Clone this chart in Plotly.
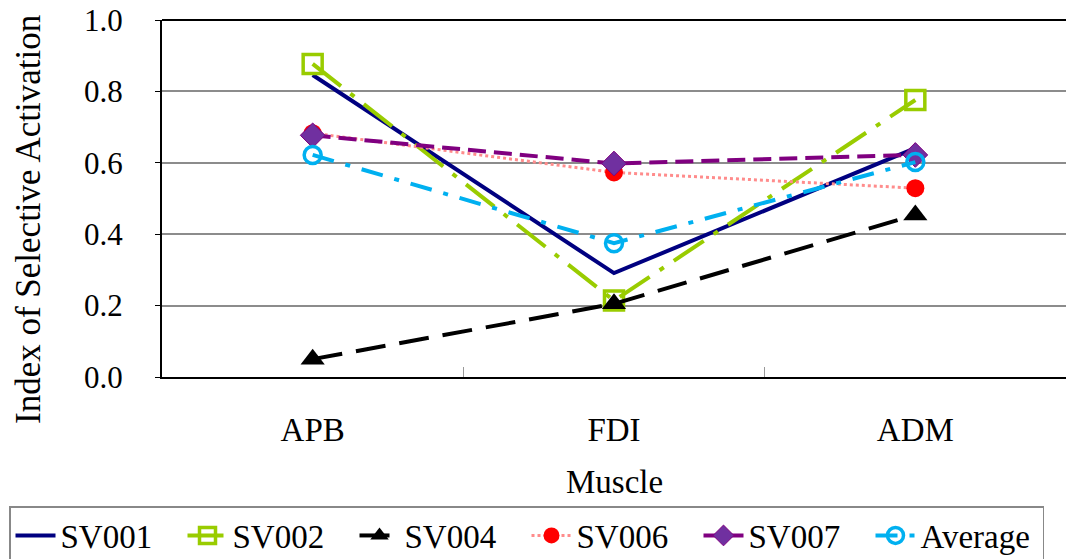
import plotly.graph_objects as go

muscles = ["APB", "FDI", "ADM"]
sv001 = [0.846, 0.291, 0.641]
sv002 = [0.877, 0.214, 0.776]
sv004 = [0.050, 0.205, 0.454]
sv006 = [0.683, 0.573, 0.529]
sv007 = [0.677, 0.598, 0.622]
average = [0.622, 0.375, 0.602]
y_ticks = [0.0, 0.2, 0.4, 0.6, 0.8, 1.0]

FONT = "Liberation Serif"

fig = go.Figure()
fig.add_trace(go.Scatter(x=muscles, y=sv001, name="SV001", mode="lines",
                         line=dict(color="#000080", width=4)))
fig.add_trace(go.Scatter(x=muscles, y=sv002, name="SV002", mode="lines+markers",
                         line=dict(color="#99CC00", width=4, dash="36px,12px,5px,12px"),
                         marker=dict(symbol="square-open", size=19, color="#99CC00",
                                     line=dict(width=3.5, color="#99CC00"))))
fig.add_trace(go.Scatter(x=muscles, y=sv004, name="SV004", mode="lines+markers",
                         line=dict(color="#000000", width=4, dash="30px,14px"),
                         marker=dict(symbol="triangle-up", size=21, color="#000000")))
fig.add_trace(go.Scatter(x=muscles, y=sv006, name="SV006", mode="lines+markers",
                         line=dict(color="#FF8C8C", width=3, dash="dot"),
                         marker=dict(symbol="circle", size=18, color="#FF0000")))
fig.add_trace(go.Scatter(x=muscles, y=sv007, name="SV007", mode="lines+markers",
                         line=dict(color="#800080", width=4, dash="18px,8px"),
                         marker=dict(symbol="diamond", size=19, color="#7030A0",
                                     line=dict(width=1, color="#800080"))))
fig.add_trace(go.Scatter(x=muscles, y=average, name="Average", mode="lines+markers",
                         line=dict(color="#00B0F0", width=4, dash="22px,12px,5px,12px"),
                         marker=dict(symbol="circle-open", size=17, color="#00B0F0",
                                     line=dict(width=3.5, color="#00B0F0"))))

fig.update_layout(
    width=1066, height=559,
    margin=dict(l=162, r=0, t=20, b=182, autoexpand=False),
    paper_bgcolor="white", plot_bgcolor="white",
    font=dict(family=FONT, color="black", size=33),
    showlegend=True,
    legend=dict(orientation="h", xref="paper", yref="paper",
                x=(9 - 162) / 904, xanchor="left", y=(377 - 506) / 357, yanchor="top",
                bordercolor="#888888", borderwidth=1.5,
                font=dict(family=FONT, size=33), entrywidth=117,
                itemwidth=40, tracegroupgap=0),
    xaxis=dict(
        range=[-0.5, 2.5], showline=True, linecolor="black", linewidth=2,
        ticks="inside", tickson="boundaries", ticklen=10, tickcolor="#999999",
        tickwidth=1, showgrid=False, ticklabelstandoff=22,
        tickfont=dict(family=FONT, size=33),
    ),
    yaxis=dict(
        range=[0, 1], tickvals=y_ticks, tickformat=".1f",
        showline=True, linecolor="black", linewidth=2,
        ticks="outside", ticklen=5, tickcolor="black",
        showgrid=True, gridcolor="#8C8C8C", gridwidth=1.5, zeroline=False,
        ticklabelstandoff=26,
        tickfont=dict(family=FONT, size=31),
    ),
    annotations=[
        dict(text="Index of Selective Activation", xref="paper", yref="paper",
             x=(28 - 162) / 904, y=(377 - 220) / 357, xanchor="center", yanchor="middle",
             textangle=-90, showarrow=False, font=dict(family=FONT, size=35)),
        dict(text="Muscle", xref="paper", yref="paper",
             x=0.5, y=(377 - 482) / 357, xanchor="center", yanchor="middle",
             showarrow=False, font=dict(family=FONT, size=33)),
    ],
    shapes=[dict(type="line", xref="paper", yref="paper", x0=0, x1=1, y0=1, y1=1,
                 line=dict(color="black", width=2))],
)

fig.write_html("out.html")
